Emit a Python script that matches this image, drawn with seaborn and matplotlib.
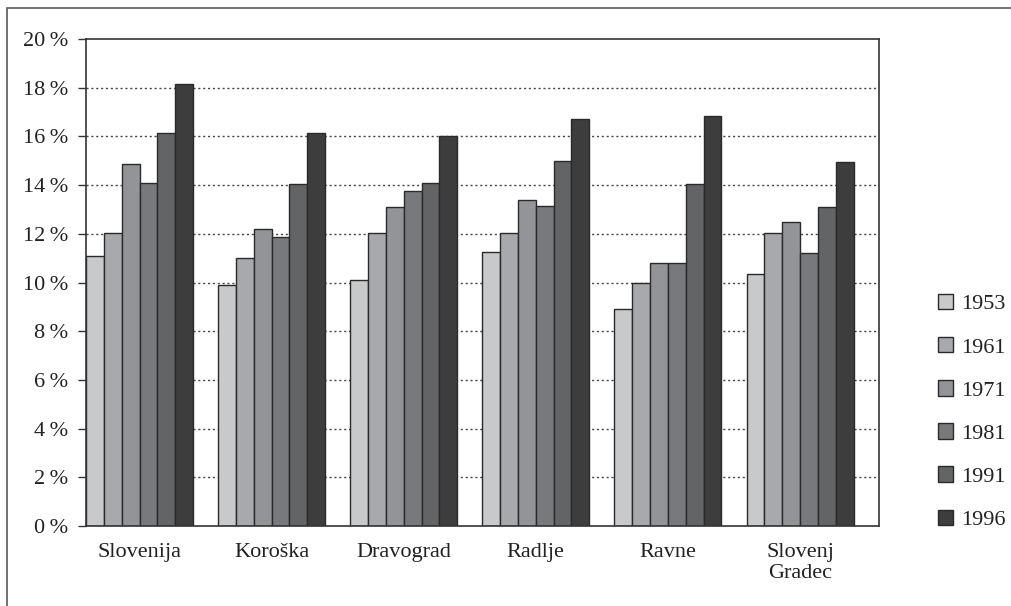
import matplotlib
matplotlib.use("Agg")
import matplotlib.pyplot as plt
from matplotlib.patches import Rectangle
import seaborn as sns
import pandas as pd

regions = ["Slovenija", "Koroška", "Dravograd", "Radlje", "Ravne", "Slovenj\nGradec"]
years = ["1953", "1961", "1971", "1981", "1991", "1996"]
share_1953 = [11.1, 9.9, 10.1, 11.25, 8.9, 10.35]
share_1961 = [12.05, 11.0, 12.05, 12.05, 10.0, 12.05]
share_1971 = [14.85, 12.2, 13.1, 13.4, 10.8, 12.5]
share_1981 = [14.1, 11.85, 13.75, 13.15, 10.8, 11.2]
share_1991 = [16.15, 14.05, 14.1, 15.0, 14.05, 13.1]
share_1996 = [18.15, 16.15, 16.0, 16.7, 16.85, 14.95]
y_ticks = [0, 2, 4, 6, 8, 10, 12, 14, 16, 18, 20]
greys = ["#c8c9cb", "#a8a9ac", "#939497", "#78797c", "#636466", "#3d3d3d"]

series = [share_1953, share_1961, share_1971, share_1981, share_1991, share_1996]
rows = []
for yr, vals in zip(years, series):
    for reg, v in zip(regions, vals):
        rows.append({"region": reg, "year": yr, "share": v})
df = pd.DataFrame(rows)

sns.set_style("white")
plt.rcParams["font.family"] = ["Liberation Serif", "DejaVu Serif"]
FS = 16

fig = plt.figure(figsize=(10.12, 6.06), dpi=100)
ax = fig.add_axes([86 / 1012, 1 - 526 / 606, (879 - 86) / 1012, (526 - 39) / 606])

sns.barplot(data=df, x="region", y="share", hue="year", hue_order=years,
            order=regions, palette=greys, width=0.81, gap=0,
            edgecolor="#2a2a2a", linewidth=1.0, saturation=1, ax=ax,
            legend=True)

ax.set_ylim(0, 20)
ax.set_xlim(-0.405, 5.598)
ax.set_yticks(y_ticks)
ax.set_yticklabels([f"{t}\u2009%" for t in y_ticks], fontsize=FS, color="#222222")
ax.tick_params(axis="y", direction="out", length=6, width=1.0, color="#333333", pad=7, left=True)
ax.tick_params(axis="x", length=0, pad=12, labelsize=FS, labelcolor="#222222")
ax.set_xlabel("")
ax.set_ylabel("")

for t in y_ticks[1:-1]:
    ax.axhline(t, color="#444444", linestyle=(0, (1.5, 2.0)), linewidth=1.0, zorder=0)

for sp in ax.spines.values():
    sp.set_visible(True)
    sp.set_color("#333333")
    sp.set_linewidth(1.2)

handles, labels = ax.get_legend_handles_labels()
ax.legend(handles, labels, loc="center left", bbox_to_anchor=(918 / 1012, 1 - 412 / 606),
          bbox_transform=fig.transFigure, frameon=False, fontsize=FS,
          handlelength=0.68, handleheight=0.68, handletextpad=0.35,
          labelspacing=1.02, labelcolor="#222222")

fig.patches.append(Rectangle((7 / 1012, -0.05), 1.2, 1 - 8 / 606 + 0.05,
                             transform=fig.transFigure, fill=False,
                             edgecolor="#666666", linewidth=1.3))

fig.savefig("out.png", dpi=100)
